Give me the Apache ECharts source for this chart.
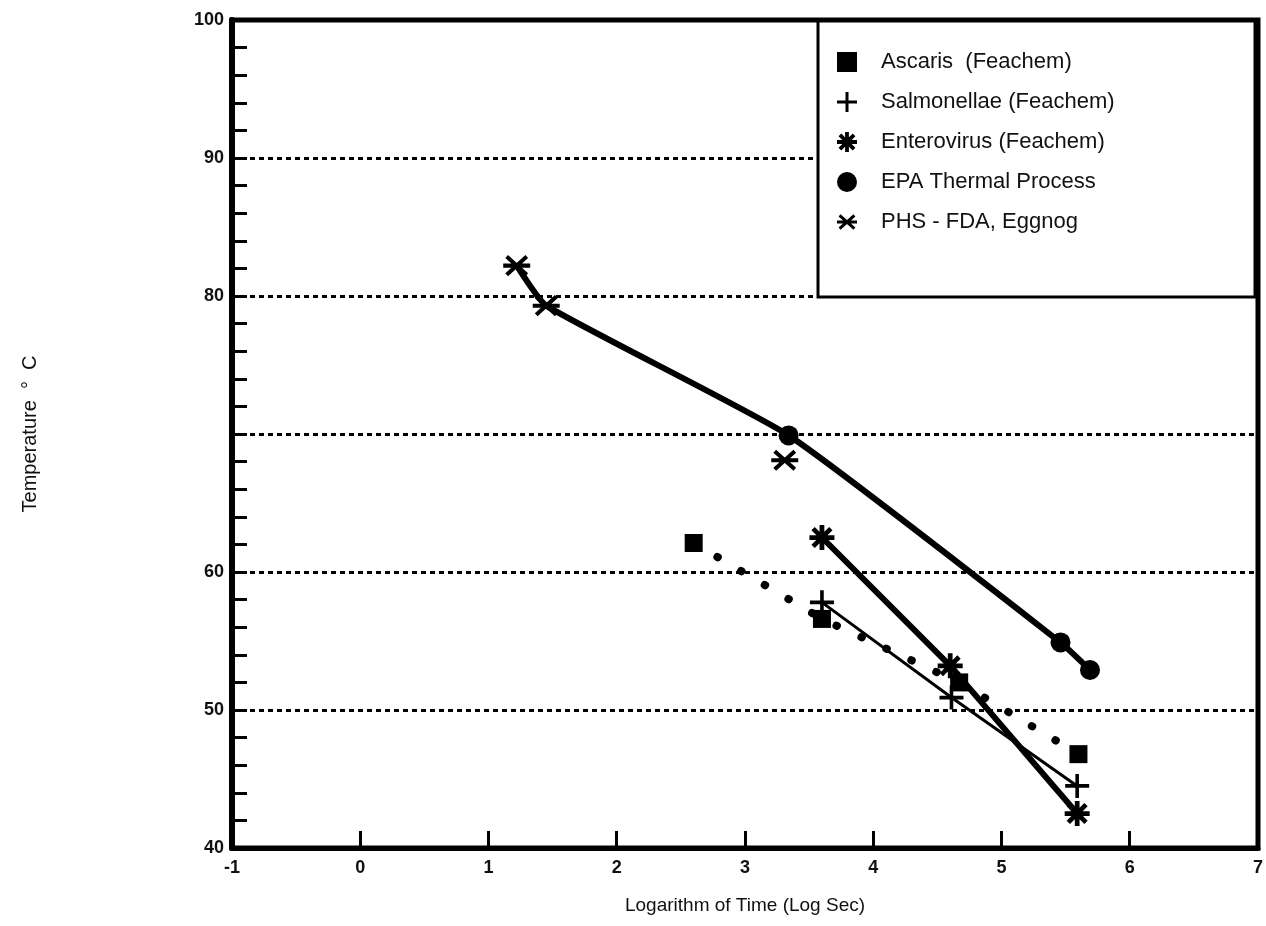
<!DOCTYPE html>
<html><head><meta charset="utf-8">
<script src="https://cdn.jsdelivr.net/npm/echarts@6/dist/echarts.min.js"></script>
<style>html,body{margin:0;padding:0;background:#fff}#c{width:1266px;height:926px}</style>
</head><body><div id="c"></div>
<script>
// ---- data ----
const seriesNames = ['Ascaris  (Feachem)', 'Salmonellae (Feachem)', 'Enterovirus (Feachem)', 'EPA Thermal Process', 'PHS - FDA, Eggnog'];
const ascarisX = [2.6, 3.6, 4.67, 5.6];
const ascarisY = [62.1, 56.6, 52.0, 46.8];
const salmX = [3.6, 4.61, 5.59];
const salmY = [57.8, 50.9, 44.5];
const enteroX = [3.6, 4.6, 5.59];
const enteroY = [62.5, 53.2, 42.5];
const epaX = [3.34, 5.46, 5.69];
const epaY = [69.9, 54.9, 52.9];
const phsX = [1.22, 1.45, 3.31];
const phsY = [82.2, 79.3, 68.1];
const xTickValues = [-1, 0, 1, 2, 3, 4, 5, 6, 7];
const xTickLabels = ['-1', '0', '1', '2', '3', '4', '5', '6', '7'];
const yTickValues = [40, 50, 60, 70, 80, 90, 100];
const yTickLabels = ['40', '50', '60', '', '80', '90', '100'];
const xTitle = 'Logarithm of Time (Log Sec)';
const yTitle = 'Temperature  °  C';

// ---- helpers ----
const zip = (xs, ys) => xs.map((x, i) => [x, ys[i]]);
function bars(angles, len, t) {
  let d = '';
  for (const a of angles) {
    const r = a * Math.PI / 180, dx = Math.cos(r), dy = Math.sin(r), nx = -dy, ny = dx;
    const pts = [
      [10 + len * dx + t * nx, 10 + len * dy + t * ny],
      [10 + len * dx - t * nx, 10 + len * dy - t * ny],
      [10 - len * dx - t * nx, 10 - len * dy - t * ny],
      [10 - len * dx + t * nx, 10 - len * dy + t * ny]
    ];
    d += 'M' + pts.map(p => p[0].toFixed(2) + ' ' + p[1].toFixed(2)).join(' L ') + ' Z ';
  }
  return 'path://' + d;
}
const plusSym = bars([0, 90], 10, 1.5);
const asterSym = bars([0, 45, 90, 135], 10, 1.9);
const xSym = bars([0, 42, 138], 10, 1.5);

const FONT = 'Liberation Sans';
const black = '#000';

const chart = echarts.init(document.getElementById('c'), null, {renderer: 'canvas'});
const lineBase = {type: 'line', symbol: 'none', silent: true, animation: false, z: 2};
const scatBase = {type: 'scatter', animation: false, z: 5, itemStyle: {color: black, opacity: 1}};

chart.setOption({
  animation: false,
  backgroundColor: '#fff',
  grid: {left: 232, right: 8, top: 20, bottom: 78, show: true, borderColor: black, borderWidth: 5, backgroundColor: 'transparent'},
  xAxis: {
    type: 'value', min: -1, max: 7, interval: 1,
    axisLine: {show: true, onZero: false, lineStyle: {color: black, width: 5}},
    axisTick: {show: true, inside: true, length: 17, lineStyle: {color: black, width: 3}},
    axisLabel: {show: true, showMinLabel: true, showMaxLabel: true, margin: 11, fontSize: 18, fontWeight: 'bold', color: '#111', fontFamily: FONT,
      formatter: v => { const i = xTickValues.indexOf(Math.round(v)); return i >= 0 ? xTickLabels[i] : ''; }},
    splitLine: {show: false},
    name: xTitle, nameLocation: 'middle', nameGap: 48,
    nameTextStyle: {fontSize: 19, color: '#111', fontFamily: FONT}
  },
  yAxis: {
    type: 'value', min: 40, max: 100, interval: 10,
    axisLine: {show: true, onZero: false, lineStyle: {color: black, width: 6}},
    axisTick: {show: true, inside: true, length: 15, lineStyle: {color: black, width: 3}},
    minorTick: {show: true, splitNumber: 5, length: 15, lineStyle: {color: black, width: 3}},
    axisLabel: {show: true, showMinLabel: true, showMaxLabel: true, margin: 8, fontSize: 18, fontWeight: 'bold', color: '#111', fontFamily: FONT,
      formatter: v => { const i = yTickValues.indexOf(Math.round(v)); return i >= 0 ? yTickLabels[i] : ''; }},
    splitLine: {show: true, lineStyle: {color: black, width: 3, type: [5, 4]}},
    name: yTitle, nameLocation: 'middle', nameGap: 192, nameRotate: 90,
    nameTextStyle: {fontSize: 20, color: '#111', fontFamily: FONT}
  },
  graphic: [{
    type: 'rect', z: 3, silent: true,
    shape: {x: 818, y: 21, width: 437, height: 276},
    style: {fill: '#fff', stroke: black, lineWidth: 3}
  }],
  legend: {
    show: true, orient: 'vertical', left: 832, top: 46,
    itemWidth: 20, itemHeight: 20, itemGap: 18,
    data: seriesNames,
    selectedMode: false,
    itemStyle: {borderWidth: 0},
    textStyle: {fontSize: 22, color: '#111', fontFamily: FONT, padding: [0, 0, 0, 19]},
    z: 6
  },
  series: [
    Object.assign({}, lineBase, {name: 'ascaris-line', data: zip(ascarisX, ascarisY),
      lineStyle: {color: black, width: 8, type: [0.5, 27], cap: 'round'}}),
    Object.assign({}, lineBase, {name: 'salm-line', data: zip(salmX, salmY),
      lineStyle: {color: black, width: 3}}),
    Object.assign({}, lineBase, {name: 'entero-line', data: zip(enteroX, enteroY),
      lineStyle: {color: black, width: 6}}),
    Object.assign({}, lineBase, {name: 'phs-epa-curve', smooth: 0.15,
      data: zip(phsX.slice(0, 2), phsY.slice(0, 2)).concat(zip(epaX, epaY)),
      lineStyle: {color: black, width: 6}}),
    Object.assign({}, scatBase, {name: seriesNames[0], symbol: 'rect', symbolSize: 18, data: zip(ascarisX, ascarisY)}),
    Object.assign({}, scatBase, {name: seriesNames[1], symbol: plusSym, symbolSize: 24, symbolKeepAspect: true, data: zip(salmX, salmY)}),
    Object.assign({}, scatBase, {name: seriesNames[2], symbol: asterSym, symbolSize: 25, symbolKeepAspect: true, data: zip(enteroX, enteroY)}),
    Object.assign({}, scatBase, {name: seriesNames[3], symbol: 'circle', symbolSize: 20, data: zip(epaX, epaY)}),
    Object.assign({}, scatBase, {name: seriesNames[4], symbol: xSym, symbolSize: 27, symbolKeepAspect: true, data: zip(phsX, phsY)})
  ]
});
</script>
</body></html>
